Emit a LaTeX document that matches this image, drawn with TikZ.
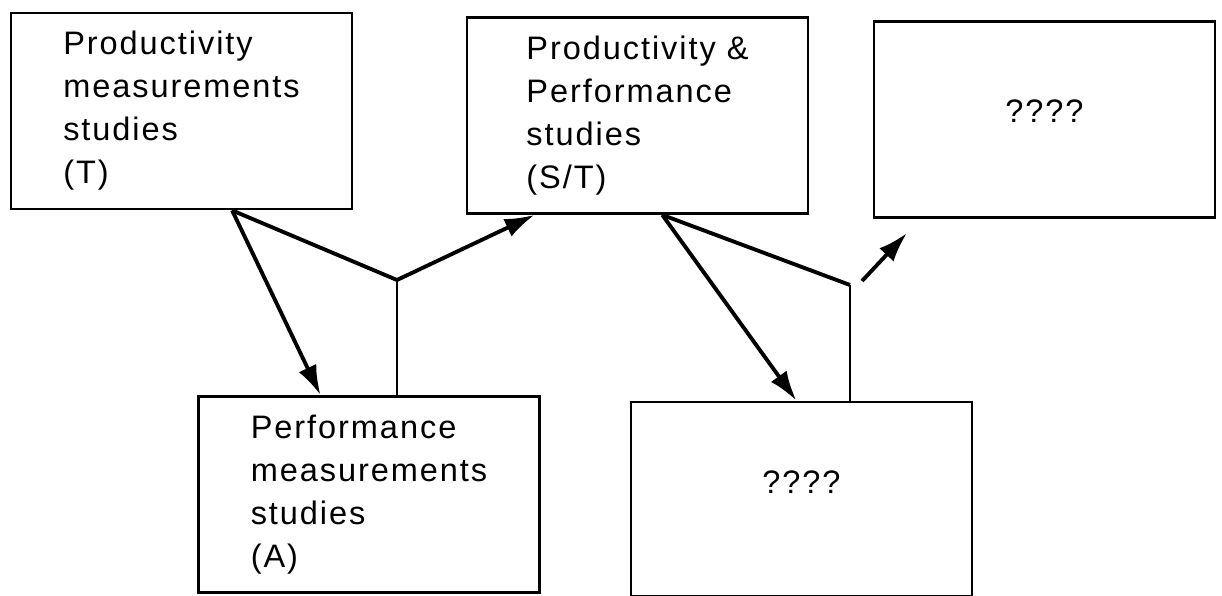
\documentclass[tikz,border=0pt]{standalone}
\usepackage{fontspec}
\setmainfont{Liberation Sans}[LetterSpace=6]
\usepackage{tikz}
\usetikzlibrary{arrows.meta,positioning}
\tikzstyle{line} = [draw, line width=2.2pt, -{Latex[length=17pt, width=11pt]}]
\tikzstyle{link} = [draw, line width=2.2pt]
\tikzstyle{stem} = [draw, line width=1.3pt]
\tikzstyle{study} = [rectangle, draw, line width=1.6pt, minimum width=6.82cm, minimum height=3.92cm, align=left, node distance=9.12cm, font=\fontsize{18.5}{24.5}\selectfont]

\begin{document}
\begin{tikzpicture}
\useasboundingbox (-3.63,-9.70) rectangle (20.81,2.22);

\node [study] (prodmeas) {Productivity\\measurements\\studies\\(T)};
\node [study, right of=prodmeas, yshift=-0.09cm] (prodperf) {Productivity \&\\Performance\\studies\\(S/T)};
\node [study, right of=prodperf, node distance=8.14cm, yshift=-0.08cm, text depth=0.34cm] (unktop) {????};

\node [study, below of=prodmeas, node distance=7.67cm, xshift=3.75cm] (perfmeas) {Performance\\measurements\\studies\\(A)};
\node [study, right of=perfmeas, node distance=8.65cm, yshift=-0.09cm, minimum height=3.88cm, text depth=0.68cm] (unkbot) {????};

\coordinate [above of=perfmeas, node distance=4.29cm, xshift=0.56cm] (join1);
\coordinate [above of=unkbot, node distance=4.28cm, xshift=0.97cm] (join2);
\coordinate [right of=join2, node distance=0.24cm, yshift=0.08cm] (grow0);
\coordinate [right of=join2, node distance=1.14cm, yshift=1.04cm] (grow1);

\path [line] (prodmeas.-63) to (perfmeas.116);
\path [line] (prodmeas.-63) -- (join1) -- (prodperf.-136);
\path [stem] (perfmeas.north -| join1) to (join1);

\path [line] (prodperf.-76) to (unkbot.93);
\path [link] (prodperf.-76) -- (join2);
\path [stem] (unkbot.north -| join2) to (join2);
\path [line] (grow0) to (grow1);

\end{tikzpicture}
\end{document}
